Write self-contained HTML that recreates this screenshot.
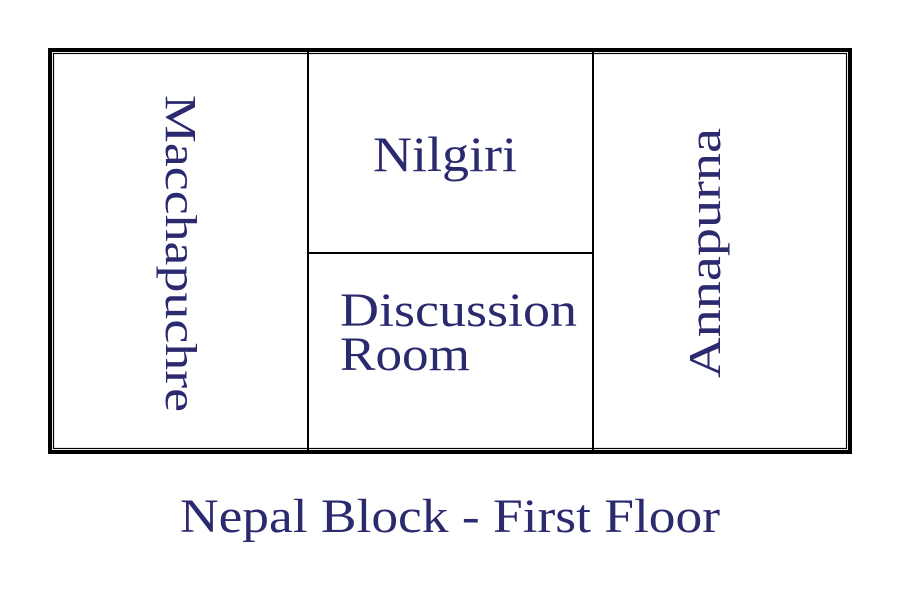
<!DOCTYPE html>
<html><head><meta charset="utf-8"><style>
html,body{margin:0;padding:0;background:#fff;width:900px;height:600px;overflow:hidden}
text{font-family:"Liberation Serif",serif;fill:#2b2a6e}
</style></head><body>
<svg width="900" height="600" viewBox="0 0 900 600">
<rect x="50" y="50" width="800" height="402" fill="none" stroke="#000" stroke-width="4"/>
<rect x="53.5" y="53.5" width="793" height="395" fill="none" stroke="#000" stroke-width="1.2"/>
<line x1="308" y1="52" x2="308" y2="450" stroke="#000" stroke-width="2"/>
<line x1="593" y1="52" x2="593" y2="450" stroke="#000" stroke-width="2"/>
<line x1="308" y1="253" x2="593" y2="253" stroke="#000" stroke-width="2"/>
<text x="373" y="171" font-size="50" textLength="144" lengthAdjust="spacingAndGlyphs">Nilgiri</text>
<text x="340" y="326" font-size="48" textLength="237" lengthAdjust="spacingAndGlyphs">Discussion</text>
<text x="340" y="370" font-size="48" textLength="130" lengthAdjust="spacingAndGlyphs">Room</text>
<text transform="translate(166,95) rotate(90)" font-size="44" textLength="317" lengthAdjust="spacingAndGlyphs">Macchapuchre</text>
<text transform="translate(720,378) rotate(-90)" font-size="46" textLength="250" lengthAdjust="spacingAndGlyphs">Annapurna</text>
<text x="180" y="532" font-size="48" textLength="540" lengthAdjust="spacingAndGlyphs">Nepal Block - First Floor</text>
</svg>
</body></html>
